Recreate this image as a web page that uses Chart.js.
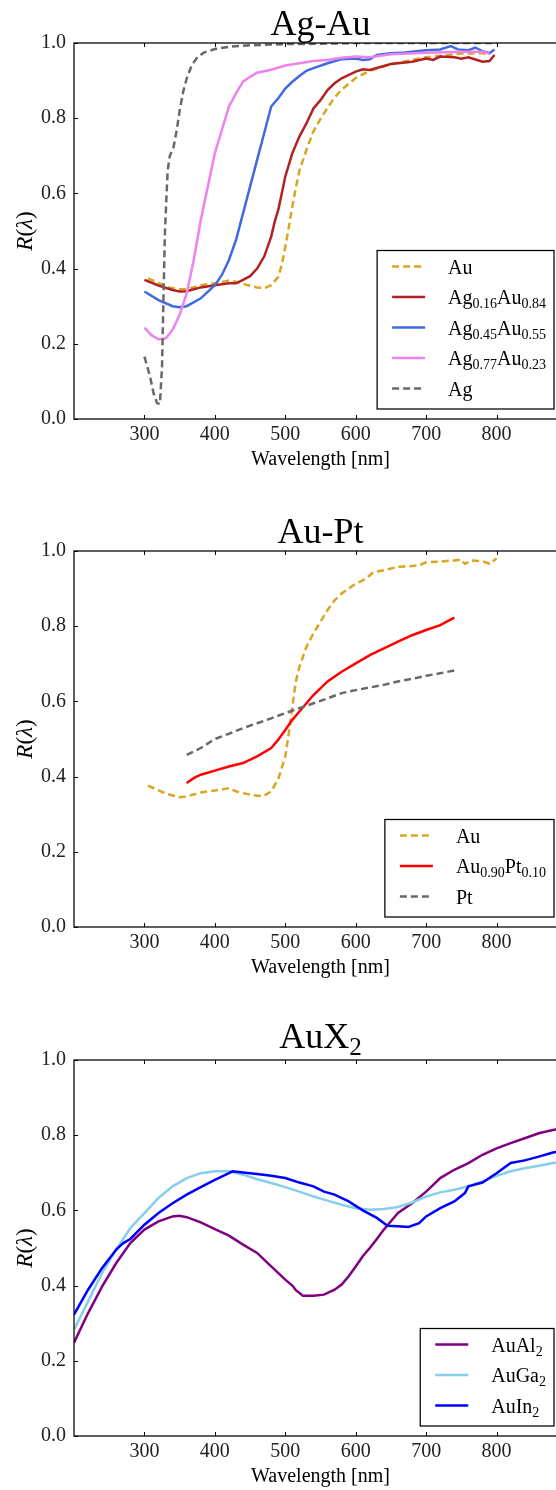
<!DOCTYPE html>
<html>
<head>
<meta charset="utf-8">
<script src="https://cdn.jsdelivr.net/npm/chart.js@4.4.1/dist/chart.umd.min.js"></script>
<style>
  html, body { margin: 0; padding: 0; background: #fff; }
  body { width: 556px; height: 1490px; overflow: hidden; position: relative; }
  canvas { position: absolute; left: 0; }
</style>
</head>
<body>
<canvas id="chart-agau" width="620" height="508" style="top:0px"></canvas>
<canvas id="chart-aupt" width="620" height="508" style="top:508px"></canvas>
<canvas id="chart-aux2" width="620" height="508" style="top:1017px"></canvas>
<script>
/* ── axis ticks ── */
const X_TICKS = [300, 400, 500, 600, 700, 800];
const Y_STEP = 0.2;

/* ── Ag-Au ── */
const agauAuWl = [305,320,335,350,360,380,400,420,430,440,460,470,480,490,495,500,505,510,515,520,530,540,550,560,570,580,600,620,650,700,750,780,790];
const agauAuR  = [0.374,0.362,0.350,0.345,0.345,0.356,0.361,0.368,0.365,0.359,0.350,0.348,0.356,0.378,0.41,0.458,0.51,0.565,0.615,0.66,0.716,0.765,0.798,0.828,0.855,0.876,0.907,0.926,0.944,0.962,0.972,0.973,0.968];

const ag16Wl = [300,320,340,350,360,380,400,420,430,440,450,460,470,480,485,490,495,500,510,520,530,540,550,560,570,580,600,610,620,640,650,660,680,700,710,720,740,750,760,770,780,790,797];
const ag16R  = [0.37,0.355,0.343,0.339,0.34,0.35,0.356,0.361,0.361,0.37,0.38,0.40,0.432,0.485,0.525,0.556,0.60,0.645,0.707,0.751,0.786,0.826,0.848,0.875,0.893,0.906,0.924,0.93,0.928,0.939,0.944,0.946,0.95,0.959,0.955,0.964,0.962,0.958,0.962,0.956,0.95,0.952,0.968];

const ag45Wl = [300,320,340,350,360,380,400,410,420,430,440,450,460,470,480,490,500,510,520,530,540,560,580,600,610,620,630,650,670,700,720,735,745,760,770,780,790,797];
const ag45R  = [0.339,0.316,0.30,0.297,0.30,0.321,0.356,0.383,0.423,0.476,0.547,0.618,0.689,0.76,0.831,0.853,0.879,0.897,0.912,0.926,0.933,0.946,0.957,0.959,0.955,0.957,0.968,0.973,0.975,0.981,0.983,0.992,0.983,0.981,0.988,0.978,0.973,0.983];

const ag77Wl = [300,310,320,330,340,350,360,370,380,390,400,410,420,430,440,450,460,480,500,520,540,560,580,600,620,650,700,750,780,790];
const ag77R  = [0.243,0.223,0.212,0.214,0.237,0.277,0.334,0.423,0.529,0.618,0.707,0.769,0.831,0.866,0.897,0.91,0.921,0.929,0.94,0.946,0.952,0.955,0.961,0.964,0.962,0.97,0.974,0.977,0.977,0.971];

const agWl = [300,308,313,318,322,325,327,329,331,333,336,341,346,350,355,360,367,375,385,400,420,450,500,550,600,700,800];
const agR  = [0.166,0.113,0.068,0.042,0.04,0.14,0.32,0.49,0.58,0.66,0.70,0.72,0.77,0.82,0.87,0.905,0.94,0.962,0.975,0.984,0.99,0.994,0.997,0.998,1.0,1.0,1.0];

/* ── Au-Pt ── */
const auptAuWl = [305,330,350,360,380,400,420,430,440,460,470,480,490,500,505,510,515,520,530,540,550,560,570,580,600,610,620,625,640,660,680,690,700,720,740,750,755,765,780,790,800];
const auptAuR  = [0.376,0.355,0.345,0.347,0.358,0.363,0.369,0.361,0.356,0.349,0.349,0.361,0.393,0.454,0.515,0.586,0.653,0.692,0.745,0.781,0.812,0.843,0.869,0.887,0.913,0.922,0.935,0.944,0.949,0.958,0.96,0.962,0.97,0.972,0.975,0.977,0.966,0.975,0.973,0.966,0.98];

const au90Wl = [360,370,380,400,420,440,460,480,490,500,510,520,530,540,560,580,600,620,640,660,680,700,720,740];
const au90R  = [0.383,0.396,0.405,0.416,0.427,0.436,0.454,0.476,0.498,0.524,0.551,0.573,0.595,0.617,0.653,0.679,0.701,0.723,0.741,0.759,0.776,0.79,0.803,0.823];

const ptWl = [360,380,400,420,440,460,480,500,520,540,560,580,600,620,640,660,680,700,720,740];
const ptR  = [0.458,0.476,0.5,0.514,0.529,0.542,0.555,0.569,0.582,0.595,0.608,0.622,0.63,0.637,0.644,0.653,0.66,0.668,0.675,0.682];

/* ── AuX2 ── */
const aualWl = [200,220,240,260,280,300,320,340,350,360,380,400,420,440,460,480,500,510,515,525,540,555,570,580,590,600,610,620,630,640,650,660,680,700,710,720,740,760,780,800,820,840,860,880,900];
const aualR  = [0.248,0.327,0.398,0.46,0.513,0.549,0.571,0.584,0.586,0.582,0.568,0.55,0.533,0.509,0.487,0.451,0.416,0.40,0.388,0.373,0.373,0.376,0.389,0.403,0.425,0.451,0.478,0.50,0.524,0.549,0.571,0.593,0.619,0.65,0.668,0.686,0.708,0.726,0.748,0.765,0.779,0.792,0.805,0.814,0.82];

const augaWl = [200,220,240,260,280,300,320,340,360,380,400,420,440,460,480,500,520,540,560,580,600,620,640,660,680,700,720,740,760,780,800,820,840,860,880,900];
const augaR  = [0.283,0.358,0.434,0.496,0.553,0.593,0.633,0.664,0.686,0.699,0.704,0.704,0.695,0.683,0.673,0.662,0.65,0.637,0.626,0.615,0.606,0.602,0.604,0.609,0.621,0.637,0.648,0.655,0.664,0.677,0.692,0.704,0.712,0.719,0.726,0.73];

const auinWl = [200,220,240,260,270,280,300,320,340,360,380,400,420,425,440,460,480,500,520,540,555,570,590,610,630,645,660,675,690,700,720,740,755,760,780,800,820,840,860,880,900];
const auinR  = [0.323,0.389,0.447,0.496,0.513,0.524,0.562,0.593,0.619,0.642,0.662,0.681,0.699,0.704,0.701,0.697,0.692,0.686,0.674,0.664,0.65,0.642,0.624,0.60,0.58,0.559,0.558,0.556,0.566,0.584,0.606,0.624,0.646,0.664,0.674,0.699,0.726,0.733,0.743,0.754,0.76];

/* ── styles ── */
const FONT = '"Liberation Serif", "DejaVu Serif", serif';
const DASH = [7, 4];

/* "Ag_{0.16}" -> [{t:'Ag'}, {t:'0.16', sub:true}] */
function parseRich(str) {
  const parts = [];
  str.replace(/_\{([^}]*)\}|([^_]+)/g, (m, sub, txt) => {
    parts.push(sub !== undefined ? { t: sub, sub: true } : { t: txt });
    return m;
  });
  return parts;
}

function drawRich(ctx, parts, x, y, size, align) {
  const subSize = size * 0.7;
  const fontOf = p => `${p.italic ? 'italic ' : ''}${p.sub ? subSize : size}px ${FONT}`;
  let w = 0;
  parts.forEach(p => { ctx.font = fontOf(p); p.w = ctx.measureText(p.t).width; w += p.w; });
  let cx = align === 'center' ? x - w / 2 : align === 'right' ? x - w : x;
  ctx.textAlign = 'left';
  ctx.textBaseline = 'alphabetic';
  parts.forEach(p => {
    ctx.font = fontOf(p);
    ctx.fillText(p.t, cx, y + (p.sub ? size * 0.2 : 0));
    cx += p.w;
  });
  return w;
}

function richWidth(ctx, parts, size) {
  let w = 0;
  parts.forEach(p => { ctx.font = `${p.sub ? size * 0.7 : size}px ${FONT}`; w += ctx.measureText(p.t).width; });
  return w;
}

/* spines with inward ticks, title, axis labels and boxed legend */
const axesDecor = {
  id: 'axesDecor',
  afterDatasetsDraw(chart, args, opts) {
    const { ctx, chartArea: a, scales } = chart;
    ctx.save();

    ctx.strokeStyle = '#000';
    ctx.lineWidth = 1.25;
    ctx.strokeRect(a.left, a.top, a.right - a.left, a.bottom - a.top);

    ctx.lineWidth = 1;
    ctx.beginPath();
    scales.x.ticks.forEach(t => {
      const px = Math.round(scales.x.getPixelForValue(t.value)) + 0.5;
      ctx.moveTo(px, a.bottom); ctx.lineTo(px, a.bottom - 4);
      ctx.moveTo(px, a.top);    ctx.lineTo(px, a.top + 4);
    });
    scales.y.ticks.forEach(t => {
      const py = Math.round(scales.y.getPixelForValue(t.value)) + 0.5;
      ctx.moveTo(a.left, py);  ctx.lineTo(a.left + 4, py);
      ctx.moveTo(a.right, py); ctx.lineTo(a.right - 4, py);
    });
    ctx.stroke();

    const cx = (a.left + a.right) / 2;
    ctx.fillStyle = '#000';
    drawRich(ctx, parseRich(opts.title), cx, opts.titleY, 36, 'center');
    drawRich(ctx, parseRich('Wavelength [nm]'), cx, a.bottom + 46, 20, 'center');

    ctx.save();
    ctx.translate(25, (a.top + a.bottom) / 2);
    ctx.rotate(-Math.PI / 2);
    drawRich(ctx, [{ t: 'R', italic: true }, { t: '(' }, { t: 'λ', italic: true }, { t: ')' }], 0, 7, 23, 'center');
    ctx.restore();

    /* legend, anchored lower right */
    const sets = chart.data.datasets;
    const n = sets.length;
    const rowH = 30.5;
    const lastRow = opts.legendBottom - 20.5;
    const firstRow = lastRow - (n - 1) * rowH;
    const maxW = Math.max(...sets.map(d => richWidth(ctx, parseRich(d.label), 20)));
    const right = opts.legendRight;
    const left = right - (71 + maxW + 8);
    const top = firstRow - 16;

    ctx.fillStyle = '#fff';
    ctx.fillRect(left, top, right - left, opts.legendBottom - top);
    ctx.strokeStyle = '#000';
    ctx.lineWidth = 1.25;
    ctx.strokeRect(left, top, right - left, opts.legendBottom - top);

    sets.forEach((d, i) => {
      const y = firstRow + i * rowH;
      ctx.beginPath();
      ctx.strokeStyle = d.borderColor;
      ctx.lineWidth = d.borderWidth;
      ctx.setLineDash(d.borderDash || []);
      ctx.moveTo(left + 15, y);
      ctx.lineTo(left + 48, y);
      ctx.stroke();
      ctx.setLineDash([]);
      ctx.fillStyle = '#000';
      drawRich(ctx, parseRich(d.label), left + 71, y + 7, 20, 'left');
    });

    ctx.restore();
  }
};

function series(wl, r, label, color, dash, order) {
  return {
    label,
    data: wl.map((x, i) => ({ x, y: r[i] })),
    borderColor: color,
    borderWidth: 2.5,
    borderDash: dash || [],
    fill: false,
    order,
  };
}

function makePanel(id, datasets, decor) {
  const tickFont = { family: FONT, size: 20 };
  return new Chart(document.getElementById(id), {
    type: 'line',
    data: { datasets },
    options: {
      responsive: false,
      animation: false,
      events: [],
      layout: { padding: { top: 43, right: 53, bottom: 0, left: 0 } },
      elements: { point: { radius: 0 }, line: { tension: 0 } },
      plugins: {
        legend: { display: false },
        tooltip: { enabled: false },
        title: { display: false },
        axesDecor: decor,
      },
      scales: {
        x: {
          type: 'linear', min: 200, max: 900,
          grid: { display: false, drawTicks: false },
          border: { display: false },
          afterBuildTicks: s => { s.ticks = X_TICKS.map(v => ({ value: v })); },
          afterFit: s => { s.height = 89; },
          ticks: { font: tickFont, color: '#222', padding: 4, maxRotation: 0, autoSkip: false },
        },
        y: {
          type: 'linear', min: 0, max: 1,
          grid: { display: false, drawTicks: false },
          border: { display: false },
          afterFit: s => { s.width = 74; },
          ticks: { font: tickFont, color: '#222', padding: 8, stepSize: Y_STEP, callback: v => v.toFixed(1) },
        },
      },
    },
    plugins: [axesDecor],
  });
}

makePanel('chart-agau', [
  series(agauAuWl, agauAuR, 'Au', '#DAA520', DASH, 5),
  series(ag16Wl, ag16R, 'Ag_{0.16}Au_{0.84}', '#B22222', null, 4),
  series(ag45Wl, ag45R, 'Ag_{0.45}Au_{0.55}', '#4169E1', null, 3),
  series(ag77Wl, ag77R, 'Ag_{0.77}Au_{0.23}', '#EE82EE', null, 2),
  series(agWl, agR, 'Ag', '#696969', DASH, 1),
], { title: 'Ag-Au', titleY: 35, legendRight: 554, legendBottom: 409 });

makePanel('chart-aupt', [
  series(auptAuWl, auptAuR, 'Au', '#DAA520', DASH, 3),
  series(au90Wl, au90R, 'Au_{0.90}Pt_{0.10}', '#FF0000', null, 2),
  series(ptWl, ptR, 'Pt', '#696969', DASH, 1),
], { title: 'Au-Pt', titleY: 35, legendRight: 554, legendBottom: 409 });

makePanel('chart-aux2', [
  series(aualWl, aualR, 'AuAl_{2}', '#800080', null, 3),
  series(augaWl, augaR, 'AuGa_{2}', '#87CEEB', null, 2),
  series(auinWl, auinR, 'AuIn_{2}', '#0000FF', null, 1),
], { title: 'AuX_{2}', titleY: 31, legendRight: 554, legendBottom: 409 });
</script>
</body>
</html>
